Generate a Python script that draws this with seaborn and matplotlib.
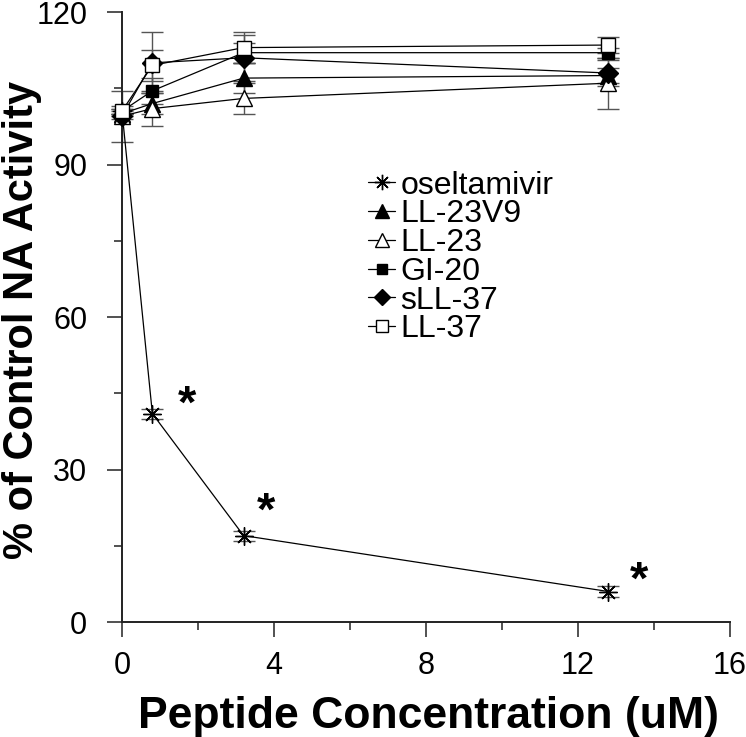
import matplotlib
matplotlib.use("Agg")
import matplotlib.pyplot as plt
import seaborn as sns
import pandas as pd
from matplotlib.ticker import MultipleLocator
from matplotlib.lines import Line2D

sns.set_style("ticks")
plt.rcParams['font.family'] = ['Liberation Sans', 'DejaVu Sans']
plt.rcParams['text.color'] = 'black'
plt.rcParams['axes.labelcolor'] = 'black'
plt.rcParams['xtick.color'] = 'black'
plt.rcParams['ytick.color'] = 'black'

conc = [0, 0.8, 3.2, 12.8]
series_names = ["oseltamivir", "LL-23V9", "LL-23", "GI-20", "sLL-37", "LL-37"]
oseltamivir = [100.5, 41, 17, 6]
ll23v9 = [100, 102, 107, 107.5]
ll23 = [99.5, 101, 103, 106]
gi20 = [100.5, 104.5, 112, 112]
sll37 = [99.5, 110, 111, 108]
ll37 = [100.5, 109.5, 113, 113.5]

err_oselt = [0.5, 1, 1, 1]
err_ll23v9 = [0.5, 2, 3, 1.5]
err_ll23 = [0.5, 3.5, 3, 5]
err_gi20 = [0.5, 2.5, 2, 1]
err_sll37 = [5, 6, 4.5, 2.5]
err_ll37 = [1, 3, 3, 1.5]

star_x = [1.7, 3.8, 13.6]
star_y = [42.5, 21.5, 8]

values = [oseltamivir, ll23v9, ll23, gi20, sll37, ll37]
errors = [err_oselt, err_ll23v9, err_ll23, err_gi20, err_sll37, err_ll37]
markers = [(8, 2, 0), "^", "^", "s", "D", "s"]
facecolors = ["black", "black", "white", "black", "black", "white"]
msizes = [13, 12, 12, 9, 10, 10]

fig = plt.figure(figsize=(7.46, 7.37), dpi=100)
ax = fig.add_axes([0.1635, 0.156, 0.8151, 0.8277])

for name, vals, errs, mk, fc, ms in zip(series_names, values, errors, markers, facecolors, msizes):
    df = pd.DataFrame({"x": conc, "y": vals})
    ax.errorbar(conc, vals, yerr=errs, fmt="none", ecolor="#555555",
                elinewidth=1.0, capsize=8, capthick=1.0, clip_on=False, zorder=2)
    sns.lineplot(data=df, x="x", y="y", ax=ax, color="black", linewidth=0.9,
                 marker=mk, markersize=ms, markerfacecolor=fc,
                 markeredgecolor="black", markeredgewidth=1.0,
                 clip_on=False, zorder=3, legend=False)
ax.set_xlabel("")
ax.set_ylabel("")

handles = [Line2D([], [], color="black", linewidth=0.9, marker=mk, markersize=ms * 0.85,
                  markerfacecolor=fc, markeredgecolor="black", markeredgewidth=1.0)
           for mk, fc, ms in zip(markers, facecolors, msizes)]
leg = ax.legend(handles, series_names, loc="upper left", bbox_to_anchor=(0.405, 0.740),
                frameon=False, fontsize=23, handlelength=0.85, handletextpad=0.15,
                labelspacing=-0.04, borderpad=0, borderaxespad=0, labelcolor="black")

for sx, sy in zip(star_x, star_y):
    ax.text(sx, sy, "*", fontsize=34, fontweight="bold", ha="center", va="center",
            color="black")

ax.set_xlim(0, 16)
ax.set_ylim(0, 120)
ax.xaxis.set_major_locator(MultipleLocator(4))
ax.xaxis.set_minor_locator(MultipleLocator(2))
ax.yaxis.set_major_locator(MultipleLocator(30))
ax.yaxis.set_minor_locator(MultipleLocator(15))
ax.tick_params(axis="both", which="major", length=11, width=1.2, labelsize=22,
               color="#333333", labelcolor="black")
ax.tick_params(axis="both", which="minor", length=5.5, width=1.2, color="#333333")
ax.tick_params(axis="x", which="major", pad=10)
ax.tick_params(axis="y", which="major", pad=14)
for s in ["left", "bottom"]:
    ax.spines[s].set_linewidth(1.4)
    ax.spines[s].set_color("#222222")
sns.despine(ax=ax)

xl = fig.text(0.5745, 0.0, "Peptide Concentration (uM)", fontsize=27, fontweight="bold",
              ha="center", va="bottom", color="black")
yl = fig.text(0.003, 0.5665, "% of Control NA Activity", fontsize=27, fontweight="bold",
              ha="left", va="center", rotation=90, color="black")

# fit label sizes to the reference extents (pixels)
fig.canvas.draw()
r = fig.canvas.get_renderer()
bx = xl.get_window_extent(r)
xl.set_fontsize(27 * 581 / bx.width)
by = yl.get_window_extent(r)
yl.set_fontsize(27 * 478 / by.height)

fig.savefig("out.png", dpi=100)
